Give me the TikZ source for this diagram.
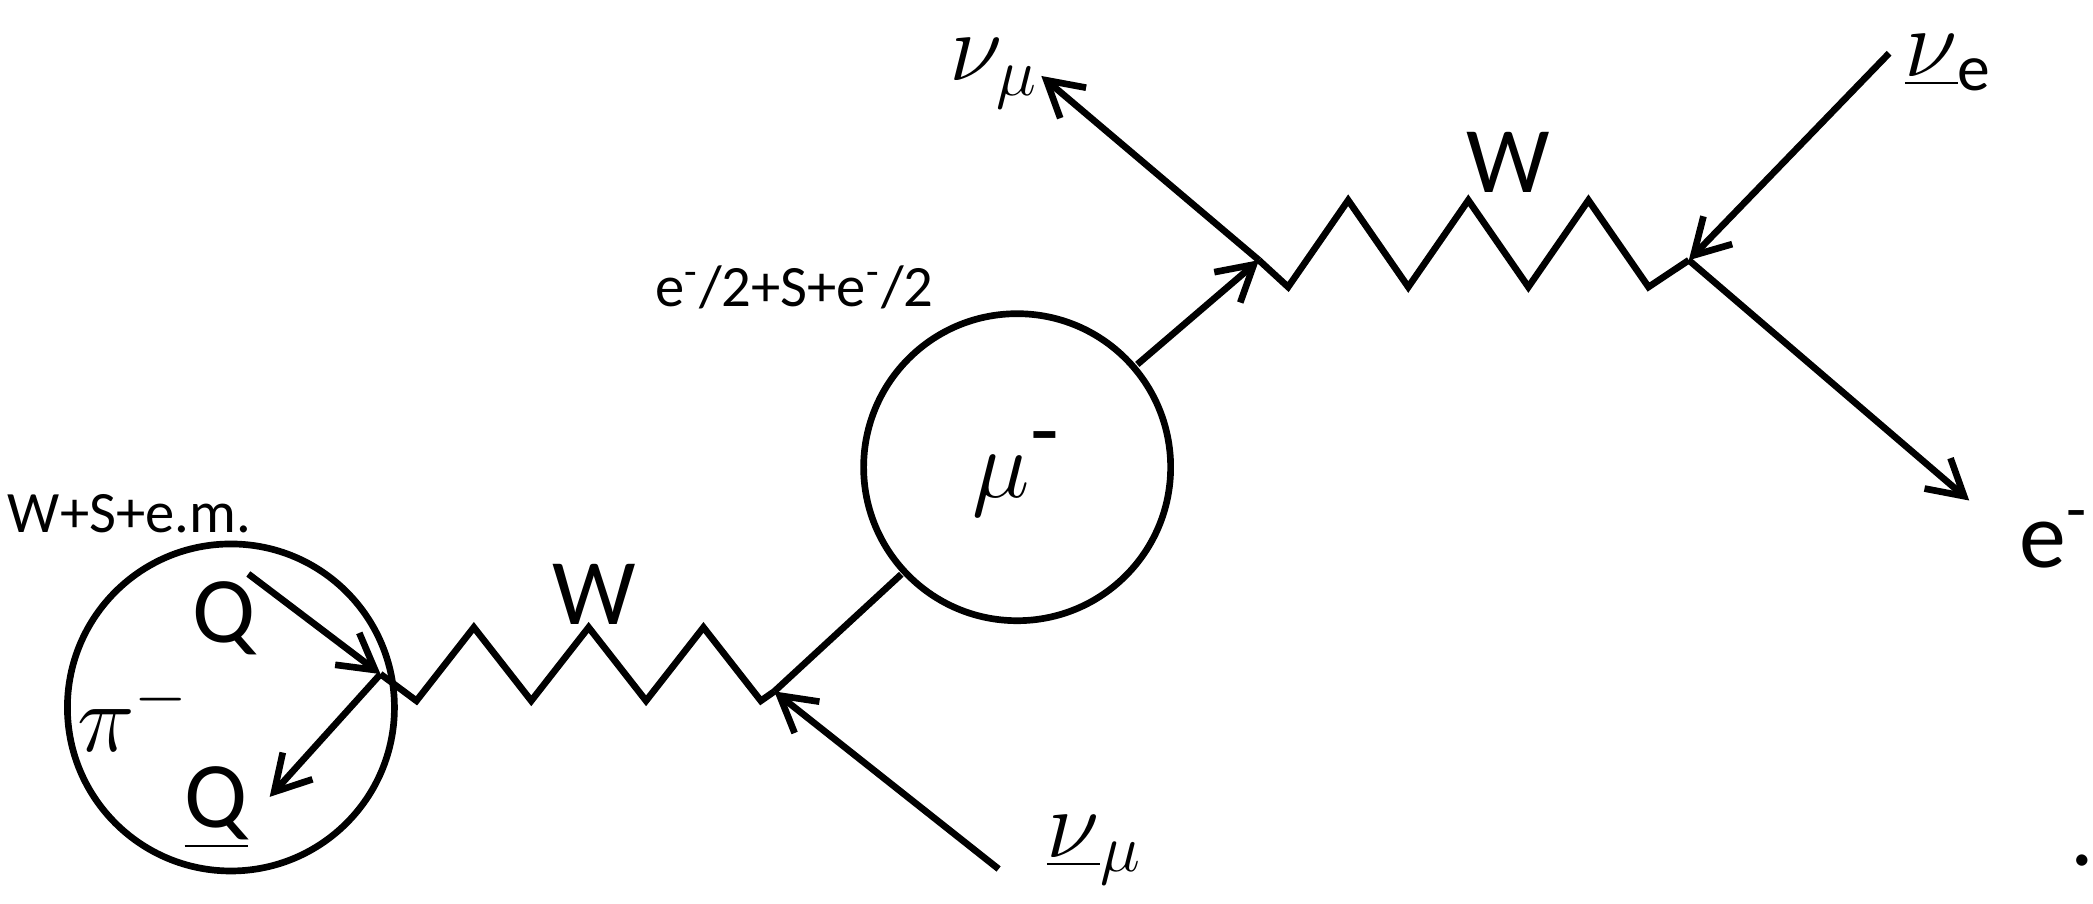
\documentclass[tikz,border=0pt]{standalone}
\usepackage{fontspec}
\setmainfont{Carlito}
\usetikzlibrary{arrows.meta}

\begin{document}
\begin{tikzpicture}[scale=1.335, transform shape,
    line/.style={line width=1.9pt, line join=miter},
    fermion/.style={line, -{Straight Barb[length=3.5mm,width=4mm]}},
    lbl/.style={font=\fontsize{20}{22}\selectfont},
    small/.style={font=\fontsize{12.5}{15}\selectfont},
]
\useasboundingbox (0,0) rectangle (15.68,6.77);

% === Blobs ===
\node[draw, line width=1.9pt, circle, minimum size=2.45cm] (pion) at (1.73,1.47) {};
\node[draw, line width=1.9pt, circle, minimum size=2.3cm] (muon) at (7.62,3.27) {};

% === Vertices ===
\coordinate (v1) at (2.85,1.72);
\coordinate (v2) at (5.80,1.59);
\coordinate (v3) at (9.43,4.82);
\coordinate (v4) at (12.65,4.82);

% === External ends ===
\coordinate (qin) at (1.86,2.47);
\coordinate (qout) at (2.02,0.80);
\coordinate (numubarin) at (7.48,0.26);
\coordinate (numuout) at (7.80,6.20);
\coordinate (nuebarin) at (14.15,6.37);
\coordinate (eout) at (14.75,3.02);

% === Lines ===
\draw[fermion] (qin) -- (v1);
\draw[fermion] (v1) -- (qout);
\draw[line] (v1) -- (3.12,1.52) -- (3.55,2.07) -- (3.98,1.52) -- (4.41,2.07)
    -- (4.84,1.52) -- (5.27,2.07) -- (5.70,1.52) -- (v2);
\draw[fermion] (numubarin) -- (v2);
\draw[line] (v2) -- (muon);
\draw[fermion] (muon) -- (v3);
\draw[fermion] (v3) -- (numuout);
\draw[line] (v3) -- (9.65,4.62) -- (10.10,5.27) -- (10.55,4.62) -- (11.00,5.27)
    -- (11.45,4.62) -- (11.90,5.27) -- (12.35,4.62) -- (v4);
\draw[fermion] (nuebarin) -- (v4);
\draw[fermion] (v4) -- (eout);

% === Labels ===
\node[small] (wsem) at (0.97,2.92) {W+S+e.m.};
\node[lbl] (qlbl) at (1.68,2.14) {Q};
\node[lbl] (pilbl) at (1.00,1.42) {$\pi^-$};
\node[lbl] (qbarlbl) at (1.62,0.72) {\underline{Q}};
\node[lbl] (wlow) at (4.45,2.32) {W};
\node[lbl] (numubarlbl) at (8.20,0.40) {$\underline{\nu}_\mu$};
\node[lbl] (mulbl) at (7.62,3.22) {$\mu^{\mbox{-}}$};
\node[small] (emix) at (5.95,4.62) {e\textsuperscript{-}/2+S+e\textsuperscript{-}/2};
\node[lbl] (numulbl) at (7.45,6.22) {$\nu_\mu$};
\node[lbl] (wup) at (11.30,5.55) {W};
\node[lbl] (nuebarlbl) at (14.60,6.30) {$\underline{\nu}_{\mathrm{e}}$};
\node[lbl] (elbl) at (15.39,2.73) {e\textsuperscript{-}};
\node[lbl] (dot) at (15.60,0.32) {.};
\end{tikzpicture}
\end{document}
